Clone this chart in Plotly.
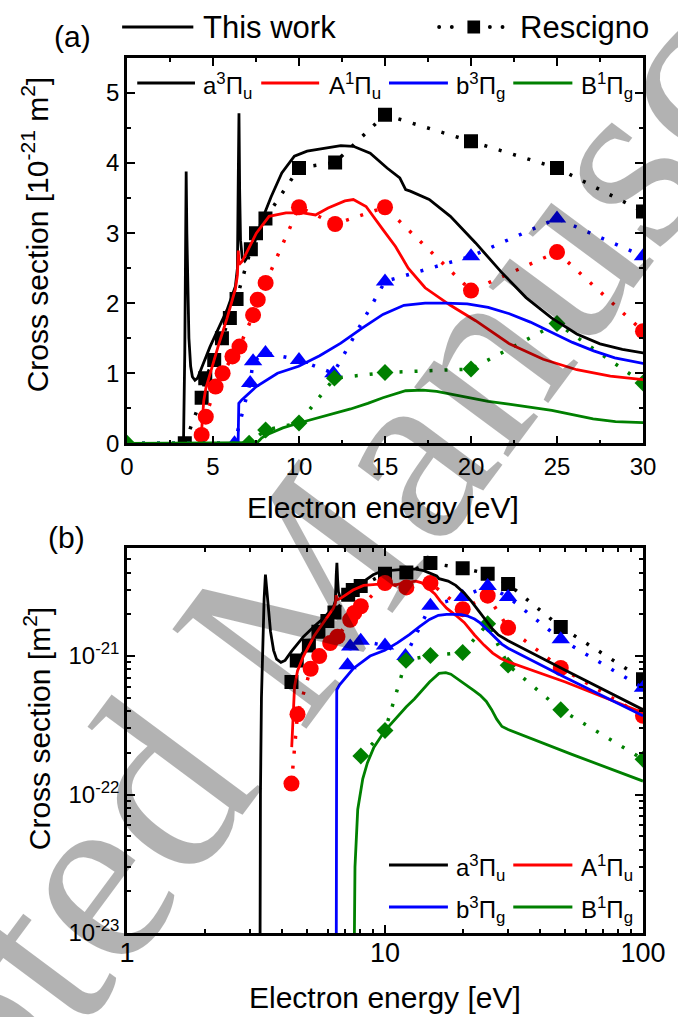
import plotly.graph_objects as go

# ---------------- data (cross sections in units of 1e-21 m^2) ----------------
e_a3 = [0, 3.25, 3.27, 3.29, 3.32, 3.36, 3.40, 3.44, 3.48, 3.53, 3.60, 3.70, 3.80, 3.95, 4.10,
        4.34, 4.83, 5.32, 5.81, 6.30, 6.42, 6.47, 6.51, 6.55, 6.60, 6.70, 6.85, 7.28, 7.77,
        8.38, 9.00, 9.73, 10.47, 11.45, 12.43, 13.16, 14.14, 15.12, 15.86, 16.20, 16.47,
        17.57, 18.80, 20.27, 21.74, 23.20, 24.68, 26.15, 27.50, 28.80, 30.0, 50.0, 100.0]
cs_a3 = [0, 0, 0.001, 0.1, 0.5, 1.3, 2.6, 3.88, 3.0, 2.2, 1.5, 1.1, 0.95, 0.9, 0.93,
         1.08, 1.38, 1.64, 1.9, 2.24, 2.5, 3.8, 4.71, 3.6, 2.9, 2.65, 2.6, 2.76, 3.14,
         3.52, 3.86, 4.10, 4.17, 4.21, 4.25, 4.24, 4.14, 3.93, 3.79, 3.62, 3.60,
         3.48, 3.24, 2.86, 2.45, 2.08, 1.79, 1.56, 1.42, 1.34, 1.29, 0.79, 0.41]

e_A1 = [0, 4.33, 4.35, 4.40, 4.46, 4.58, 4.83, 5.32, 5.81, 6.30, 6.42, 6.47, 6.52, 6.70,
        6.91, 7.52, 8.26, 9.24, 10.22, 10.96, 11.69, 12.67, 13.16, 13.90, 14.88, 15.61,
        16.35, 17.33, 18.80, 20.27, 22.23, 24.20, 26.15, 28.10, 30.0, 50.0, 100.0]
cs_A1 = [0, 0, 0.22, 0.40, 0.60, 0.78, 1.0, 1.40, 1.78, 2.20, 2.40, 2.75, 2.55, 2.60,
         2.70, 3.0, 3.24, 3.29, 3.29, 3.26, 3.36, 3.46, 3.48, 3.38, 3.05, 2.81,
         2.50, 2.22, 1.97, 1.75, 1.42, 1.20, 1.05, 0.96, 0.91, 0.65, 0.39]

e_b3 = [0, 6.44, 6.46, 6.48, 6.50, 6.67, 7.52, 8.75, 9.98, 11.2, 12.43, 13.65, 14.88, 16.1,
        17.33, 18.55, 19.78, 21.0, 22.23, 23.45, 24.68, 25.9, 27.13, 28.36, 30.0, 50.0, 100.0]
cs_b3 = [0, 0, 0.001, 0.3, 0.57, 0.62, 0.81, 1.0, 1.1, 1.25, 1.43, 1.64, 1.84, 1.97,
         2.0, 2.0, 1.99, 1.94, 1.85, 1.73, 1.58, 1.44, 1.32, 1.22, 1.14, 0.70, 0.37]

e_B1 = [0, 7.50, 7.53, 7.58, 7.65, 7.84, 8.2, 8.55, 9.06, 10.0, 11.2, 12.1, 13.0, 14.0, 14.88,
        16.2, 17.2, 18.0, 18.8, 19.8, 21.0, 22.2, 23.4, 24.7, 25.9, 27.1, 28.4, 29.5, 30.0,
        53.0, 100.0]
cs_B1 = [0, 0, 0.001, 0.01, 0.03, 0.078, 0.13, 0.17, 0.22, 0.29, 0.37, 0.43, 0.49, 0.57, 0.65,
         0.75, 0.76, 0.74, 0.70, 0.65, 0.60, 0.56, 0.52, 0.47, 0.41, 0.35, 0.31, 0.30, 0.295,
         0.195, 0.125]

# Rescigno data
r_e_a3 = [3.36, 4.34, 4.55, 5.07, 5.52, 5.98, 6.37, 7.2, 7.5, 8.05, 10, 12.1, 15, 20, 25, 30, 48, 100]
r_cs_a3 = [0, 0.65, 0.93, 1.19, 1.5, 1.79, 2.06, 2.77, 3.0, 3.21, 3.93, 4.01, 4.69, 4.31, 3.93, 3.31, 1.62, 0.68]
r_e_A1 = [4.34, 4.58, 5.15, 5.56, 6.13, 6.54, 7.33, 7.6, 8.06, 10, 12.1, 15, 20, 25, 30, 48, 100]
r_cs_A1 = [0.12, 0.38, 0.81, 1.0, 1.24, 1.38, 1.83, 2.05, 2.29, 3.37, 3.13, 3.37, 2.18, 2.73, 1.6, 0.82, 0.37]
r_e_b3 = [0, 6.25, 7.16, 7.33, 8.05, 10, 12, 15, 20, 25, 30, 48, 100]
r_cs_b3 = [0, 0, 0.86, 1.17, 1.29, 1.19, 1.0, 2.31, 2.67, 3.21, 2.67, 1.32, 0.59]
r_e_B1 = [0, 7.1, 8.06, 10, 12.06, 15, 20, 25, 30, 48, 100]
r_cs_B1 = [0, 0, 0.19, 0.29, 0.93, 1.01, 1.06, 1.71, 0.86, 0.41, 0.18]

state_labels = ["a<sup>3</sup>Π<sub>u</sub>", "A<sup>1</sup>Π<sub>u</sub>",
                "b<sup>3</sup>Π<sub>g</sub>", "B<sup>1</sup>Π<sub>g</sub>"]
colors = ["#000000", "#ff0000", "#0000ff", "#008000"]
symbols = ["square", "circle", "triangle-up", "diamond"]
msizes = [14, 16, 16, 13]

theory = [(e_a3, cs_a3), (e_A1, cs_A1), (e_b3, cs_b3), (e_B1, cs_B1)]
rescigno = [(r_e_a3, r_cs_a3), (r_e_A1, r_cs_A1), (r_e_b3, r_cs_b3), (r_e_B1, r_cs_B1)]

FONT = "Liberation Sans"
W, H = 678, 1017
ML, MR, MT, MB = 127, 22, 58, 84
PW = W - ML - MR
PH = H - MT - MB


def px(x):
    return (x - ML) / PW


def py(y):
    return (H - MB - y) / PH


def prep(ex, cy, panel):
    if panel == 1:
        return ex, cy
    pts = [(a, b * 1e-21) for a, b in zip(ex, cy) if a > 0 and b > 0]
    return [p[0] for p in pts], [p[1] for p in pts]


fig = go.Figure()

for panel in (1, 2):
    xa = "x" if panel == 1 else "x2"
    ya = "y" if panel == 1 else "y2"
    for i in range(4):
        xs, ys = prep(*rescigno[i], panel)
        fig.add_trace(go.Scatter(
            x=xs, y=ys, xaxis=xa, yaxis=ya, mode="lines+markers",
            line=dict(color=colors[i], width=3.5, dash="3px,12px"),
            marker=dict(symbol=symbols[i], size=msizes[i], color=colors[i], line=dict(width=0)),
            showlegend=False, hoverinfo="skip"))
    for i in range(4):
        xs, ys = prep(*theory[i], panel)
        fig.add_trace(go.Scatter(
            x=xs, y=ys, xaxis=xa, yaxis=ya, mode="lines",
            line=dict(color=colors[i], width=2.8),
            showlegend=False, hoverinfo="skip"))

axis_common = dict(showline=True, linecolor="black", linewidth=2.5, mirror="allticks",
                   ticks="inside", tickwidth=2, ticklen=8, tickcolor="black",
                   showgrid=False, zeroline=False,
                   tickfont=dict(family=FONT, size=24, color="black"))

dom_a = [py(443.3), 1.0]
dom_b = [0.0, py(548.3)]

fig.update_layout(
    width=W, height=H,
    margin=dict(l=ML, r=MR, t=MT, b=MB, pad=0),
    paper_bgcolor="white", plot_bgcolor="white",
    font=dict(family=FONT, color="black"),
    xaxis=dict(axis_common, domain=[0, 1], anchor="y", range=[0, 30], dtick=5, tick0=0,
               minor=dict(ticks="inside", dtick=2.5, ticklen=4, tickwidth=2, tickcolor="black")),
    yaxis=dict(axis_common, domain=dom_a, anchor="x", range=[0, 5.5], dtick=1, tick0=0,
               minor=dict(ticks="inside", dtick=0.5, ticklen=4, tickwidth=2, tickcolor="black")),
    xaxis2=dict(axis_common, domain=[0, 1], anchor="y2", type="log", range=[0, 2],
                tickvals=[1, 10, 100], ticktext=["1", "10", "100"], ticklabelstandoff=-6,
                tickfont=dict(family=FONT, size=27, color="black"),
                minor=dict(ticks="inside", ticklen=4, tickwidth=2, tickcolor="black",
                           tickvals=[a * b for b in (1, 10) for a in range(2, 10)])),
    yaxis2=dict(axis_common, domain=dom_b, anchor="x2", type="log",
                range=[-23, -20.2218],
                tickvals=[1e-23, 1e-22, 1e-21],
                ticktext=["10<sup>-23</sup>", "10<sup>-22</sup>", "10<sup>-21</sup>"],
                minor=dict(ticks="inside", ticklen=4, tickwidth=2, tickcolor="black",
                           tickvals=[a * b for b in (1e-23, 1e-22, 1e-21) for a in range(2, 10)])),
)

shapes = []
ann = []


def add_text(x, y, text, size, xanchor="left", yanchor="middle", angle=0,
             family=FONT, color="black"):
    ann.append(dict(x=px(x), y=py(y), xref="paper", yref="paper", text=text, showarrow=False,
                    xanchor=xanchor, yanchor=yanchor, textangle=angle,
                    font=dict(family=family, size=size, color=color)))


def add_line(x0, x1, y, color, width=3, dash="solid"):
    shapes.append(dict(type="line", xref="paper", yref="paper", x0=px(x0), x1=px(x1),
                       y0=py(y), y1=py(y), line=dict(color=color, width=width, dash=dash)))


# top legend
add_line(122, 195, 27, "black", 3)
add_text(203, 27, "This work", 31)
for dx in (447, 460, 499, 512):
    shapes.append(dict(type="circle", xref="paper", yref="paper", x0=px(dx - 2), x1=px(dx + 2),
                       y0=py(29), y1=py(25), fillcolor="black", line=dict(width=0)))
shapes.append(dict(type="rect", xref="paper", yref="paper", x0=px(476), x1=px(489),
                   y0=py(33.5), y1=py(20.5), fillcolor="black", line=dict(width=0)))
add_text(528, 27, "Rescigno", 31)

# panel (a) legend (single row)
leg_line_x = [(137.5, 196.7), (264.6, 324), (395.6, 456), (523, 583.6)]
leg_text_x = [203, 332, 462.6, 590]
for i in range(4):
    add_line(leg_line_x[i][0], leg_line_x[i][1], 83, colors[i], 3)
    add_text(leg_text_x[i], 86, state_labels[i], 24)

# panel (b) legend (2x2)
rows = [865, 907]
for i in range(4):
    r = rows[i // 2]
    c = i % 2
    xl = leg_line_x[2 + c]
    add_line(xl[0], xl[1], r, colors[i], 3)
    add_text(leg_text_x[2 + c], r + 3, state_labels[i], 24)

# panel labels and axis titles
add_text(71, 37, "(a)", 30, xanchor="center")
add_text(65, 537, "(b)", 30, xanchor="center")
add_text(389, 508, "Electron energy [eV]", 30, xanchor="center")
add_text(392, 997, "Electron energy [eV]", 30, xanchor="center")
add_text(33, 234, "Cross section [10<sup>-21</sup> m<sup>2</sup>]", 30, xanchor="center", angle=-90)
add_text(35, 729, "Cross section [m<sup>2</sup>]", 30, xanchor="center", angle=-90)

# journal watermark drawn over the figure
add_text(277, 629, "Accepted Manuscript", 255, xanchor="center", angle=-53.4,
         family="Liberation Serif", color="rgba(0,0,0,0.3)")

fig.update_layout(shapes=shapes, annotations=ann)

fig.write_html("out.html")
